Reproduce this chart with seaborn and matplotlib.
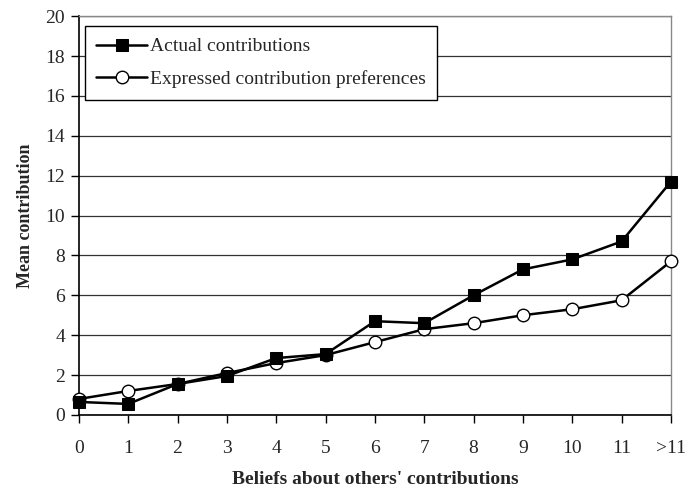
import numpy as np
import pandas as pd
import matplotlib
matplotlib.use('Agg')
import matplotlib.pyplot as plt
import seaborn as sns

# Data
beliefs = ['0', '1', '2', '3', '4', '5', '6', '7', '8', '9', '10', '11', '>11']
actual = [0.65, 0.55, 1.55, 1.95, 2.85, 3.05, 4.7, 4.6, 6.0, 7.3, 7.8, 8.7, 11.7]
expressed = [0.8, 1.2, 1.55, 2.1, 2.6, 3.0, 3.65, 4.3, 4.6, 5.0, 5.3, 5.75, 7.7]

sns.set_style("white")
plt.rcParams['font.family'] = ['Liberation Serif', 'DejaVu Serif']

pos = np.arange(len(beliefs))
df = pd.DataFrame({'pos': pos, 'actual': actual, 'expressed': expressed})

fig = plt.figure(figsize=(6.86, 4.91), dpi=100)
ax = fig.add_axes([0.115, 0.155, 0.863, 0.812])

sns.lineplot(data=df, x='pos', y='actual', ax=ax, color='black', lw=1.8,
             marker='s', markersize=9, markerfacecolor='black',
             markeredgecolor='black', label='Actual contributions',
             zorder=4, clip_on=False)
sns.lineplot(data=df, x='pos', y='expressed', ax=ax, color='black', lw=1.8,
             marker='o', markersize=9, markerfacecolor='white',
             markeredgecolor='black', markeredgewidth=1.0,
             label='Expressed contribution preferences', zorder=3, clip_on=False)

ax.set_xlim(0, len(beliefs) - 1)
ax.set_ylim(0, 20)
ax.set_yticks(range(0, 21, 2))
ax.set_xticks(pos)
ax.set_xticklabels(beliefs)
ax.tick_params(axis='both', labelsize=14, direction='out', length=6,
               width=1, color='black', bottom=True, left=True)
ax.tick_params(axis='x', pad=12)
ax.tick_params(axis='y', pad=4)
ax.yaxis.grid(True, color='#333333', lw=0.9)
ax.set_axisbelow(True)

for side in ['top', 'right']:
    ax.spines[side].set_color('#888888')
    ax.spines[side].set_linewidth(1)
for side in ['left', 'bottom']:
    ax.spines[side].set_color('black')
    ax.spines[side].set_linewidth(1.2)

ax.set_xlabel("Beliefs about others' contributions", fontsize=14,
              fontweight='bold', labelpad=10)
ax.set_ylabel('Mean contribution', fontsize=13, fontweight='bold', labelpad=8)

leg = ax.legend(loc='upper left', bbox_to_anchor=(0.01, 0.975), fontsize=14,
                frameon=True, fancybox=False, handlelength=2.6,
                borderpad=0.6, labelspacing=0.75, borderaxespad=0,
                handletextpad=0.15)
leg.get_frame().set_edgecolor('black')
leg.get_frame().set_linewidth(1)
leg.get_frame().set_alpha(1)

fig.savefig('out.png', dpi=100)
